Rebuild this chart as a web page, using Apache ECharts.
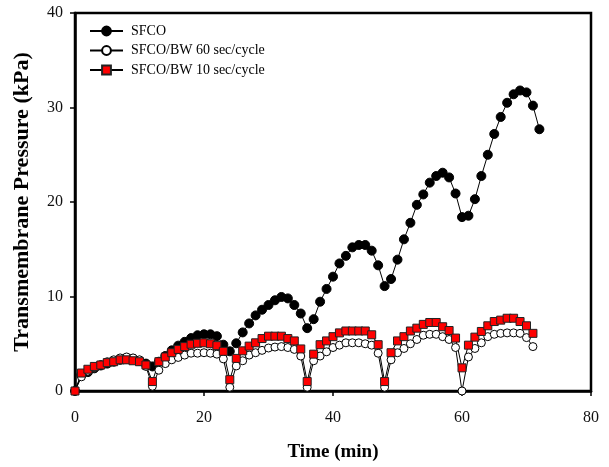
<!DOCTYPE html>
<html lang="en">
<head>
<meta charset="UTF-8">
<title>TMP</title>
<script src="https://cdn.jsdelivr.net/npm/echarts@6/dist/echarts.min.js"></script>
<style>
  html, body { margin: 0; padding: 0; background: #fff; }
  #main { width: 609px; height: 467px; }
</style>
</head>
<body>
<div id="main"></div>
<script>
// time (min)
var timeSFCO = [0,1,2,3,4,5,6,7,8,9,10,11,12,13,14,15,16,17,18,19,20,21,22,23,24,25,26,27,28,29,30,31,32,33,34,35,36,37,38,39,40,41,42,43,44,45,46,47,48,49,50,51,52,53,54,55,56,57,58,59,60,61,62,63,64,65,66,67,68,69,70,71,72]
var timeBW = [0,1,2,3,4,5,6,7,8,9,10,11,12,13,14,15,16,17,18,19,20,21,22,23,24,25,26,27,28,29,30,31,32,33,34,35,36,37,38,39,40,41,42,43,44,45,46,47,48,49,50,51,52,53,54,55,56,57,58,59,60,61,62,63,64,65,66,67,68,69,70,71]

// TMP (kPa)
var sfco = [0,1.7,2.0,2.4,2.7,2.9,3.1,3.3,3.4,3.4,3.2,2.9,2.6,3.1,3.7,4.3,4.8,5.2,5.6,5.9,6.0,6.0,5.8,4.9,4.2,5.05,6.2,7.15,8.0,8.6,9.1,9.6,9.95,9.8,9.1,8.2,6.65,7.6,9.45,10.8,12.1,13.5,14.3,15.2,15.45,15.45,14.85,13.3,11.1,11.85,13.9,16.05,17.8,19.7,20.8,22.05,22.75,23.1,22.6,20.9,18.4,18.55,20.3,22.75,25.0,27.2,29.0,30.5,31.4,31.8,31.6,30.2,27.7]
var bw60 = [0,1.5,2.1,2.5,2.8,3.1,3.3,3.5,3.6,3.5,3.3,2.6,0.5,2.2,2.9,3.3,3.55,3.8,4.0,4.0,4.05,4.0,3.9,3.4,0.4,2.65,3.2,3.8,4.05,4.3,4.55,4.65,4.7,4.6,4.4,3.7,0.4,3.2,3.7,4.15,4.6,4.85,5.1,5.1,5.1,5.0,4.85,4.0,0.4,3.3,4.05,4.5,5.0,5.45,5.9,6.0,6.0,5.75,5.45,4.6,0.0,3.6,4.5,5.1,5.75,6.0,6.1,6.15,6.15,6.1,5.65,4.7]
var bw10 = [0,1.9,2.3,2.6,2.75,3.0,3.1,3.3,3.3,3.2,3.1,2.75,1.0,3.1,3.6,4.05,4.4,4.7,4.95,5.05,5.1,5.0,4.8,4.2,1.2,3.45,4.25,4.75,5.1,5.55,5.8,5.8,5.8,5.55,5.3,4.45,1.0,3.9,4.9,5.3,5.75,6.15,6.35,6.35,6.35,6.35,5.95,4.9,1.0,4.05,5.3,5.75,6.35,6.65,7.05,7.25,7.25,6.8,6.4,5.6,2.45,4.85,5.7,6.3,6.9,7.35,7.5,7.7,7.7,7.35,6.9,6.1]

var seriesNames = ['SFCO', 'SFCO/BW 60 sec/cycle', 'SFCO/BW 10 sec/cycle']

function pairs(xs, ys) {
  return xs.map(function (x, i) { return [x, ys[i]] })
}

var font = '"Liberation Serif", "Times New Roman", serif'
var chart = echarts.init(document.getElementById('main'), null, { renderer: 'canvas' })

var option = {
  animation: false,
  backgroundColor: '#fff',
  grid: {
    left: 75, right: 18, top: 13, bottom: 76,
    show: true, borderColor: '#000', borderWidth: 2.5
  },
  legend: {
    orient: 'vertical',
    left: 89, top: 24, padding: 0,
    itemWidth: 33, itemHeight: 11, itemGap: 5.5,
    data: seriesNames,
    textStyle: { fontFamily: font, fontSize: 14, color: '#000', padding: [0, 0, 0, 3] }
  },
  xAxis: {
    type: 'value', min: 0, max: 80, interval: 20,
    name: 'Time (min)', nameLocation: 'middle', nameGap: 52,
    nameTextStyle: { fontFamily: font, fontSize: 19, fontWeight: 'bold', color: '#000' },
    axisLine: { show: true, lineStyle: { color: '#000', width: 2.5 } },
    axisTick: { show: true, inside: false, length: 5, lineStyle: { color: '#000', width: 1.5 } },
    axisLabel: { margin: 19, fontFamily: font, fontSize: 16, color: '#111' },
    splitLine: { show: false }
  },
  yAxis: {
    type: 'value', min: 0, max: 40, interval: 10,
    name: 'Transmembrane Pressure (kPa)', nameLocation: 'middle', nameGap: 42, nameRotate: 90,
    nameTextStyle: { fontFamily: font, fontSize: 22, fontWeight: 'bold', color: '#000' },
    axisLine: { show: true, lineStyle: { color: '#000', width: 2.5 } },
    axisTick: { show: true, inside: false, length: 5, lineStyle: { color: '#000', width: 1.5 } },
    axisLabel: { margin: 12, fontFamily: font, fontSize: 16, color: '#111' },
    splitLine: { show: false }
  },
  series: [
    {
      name: seriesNames[0], type: 'line', data: pairs(timeSFCO, sfco),
      symbol: 'circle', symbolSize: 9,
      lineStyle: { color: '#000', width: 1 },
      itemStyle: { color: '#000', borderColor: '#000', borderWidth: 1 }
    },
    {
      name: seriesNames[1], type: 'line', data: pairs(timeBW, bw60),
      symbol: 'circle', symbolSize: 8,
      lineStyle: { color: '#000', width: 1 },
      itemStyle: { color: '#fff', borderColor: '#000', borderWidth: 1 }
    },
    {
      name: seriesNames[2], type: 'line', data: pairs(timeBW, bw10),
      symbol: 'rect', symbolSize: 8,
      lineStyle: { color: '#000', width: 1 },
      itemStyle: { color: '#ff0000', borderColor: '#222', borderWidth: 1 }
    }
  ]
}
chart.setOption(option)
</script>
</body>
</html>
